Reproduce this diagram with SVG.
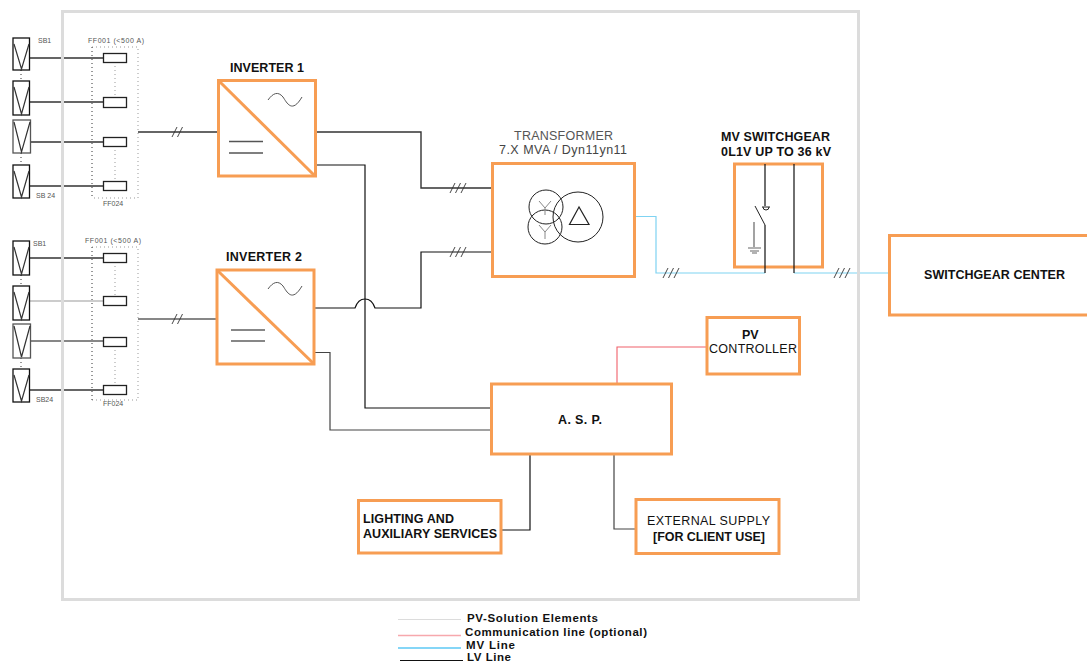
<svg xmlns="http://www.w3.org/2000/svg" width="1087" height="663" viewBox="0 0 1087 663">
<style>
text{font-family:"Liberation Sans",Arial,sans-serif;fill:#111}
.lb{font-size:12.500px;font-weight:bold}
.lg{font-size:11.500px;font-weight:bold}
.sm{font-size:7px;fill:#555}
.box{fill:#fff;stroke:#f79d53;stroke-width:3}
.diag{fill:none;stroke:#f79d53;stroke-width:3}
.lv{fill:none;stroke:#111;stroke-width:1.200}
.grey{fill:none;stroke:#444;stroke-width:1.200}
.thick{fill:none;stroke:#333;stroke-width:1.400}
.mv{fill:none;stroke:#7fd3f2;stroke-width:1.200}
.com{fill:none;stroke:#f0606a;stroke-width:1.100}
.pv{fill:#fff;stroke:#111;stroke-width:1.300}
.vee{fill:none;stroke:#333;stroke-width:1.200}
.fuse{fill:#fff;stroke:#222;stroke-width:1.300}
.dot{fill:none;stroke:#999;stroke-width:1;stroke-dasharray:1 3}
.dotd{fill:none;stroke:#333;stroke-width:1;stroke-dasharray:1 3}
.tick{fill:none;stroke:#333;stroke-width:.9}
.sym{fill:none;stroke:#222;stroke-width:1}
</style>
<defs>
<g id="sine"><path class="sym" d="M0 8C5 1 10 -1 15 5C19 11 24 22 34 5" style="stroke:#555"/></g>
<g id="t2"><path class="tick" d="M0 10L5 0M5.500 10L10.500 0"/></g>
<g id="t3"><path class="tick" d="M0 10L5 0M5.500 10L10.500 0M11 10L16 0"/></g>
</defs>

<g id="connectors">
<path class="thick" d="M30 58H104M30 102H104M30 142H104M30 186H104"/>
<path class="thick" d="M30 258H104"/><path fill="none" stroke="#999" stroke-width="1.200" d="M30 301H104"/><path class="lv" d="M30 341H104"/><path class="thick" d="M30 390H104"/>
<path class="thick" d="M138 132H218"/><path class="lv" d="M138 319H217"/>
<path class="thick" d="M315 132H421V188H492"/>
<path class="lv" d="M315 165H365V408H491"/>
<path class="lv" d="M314 308H355C357 302 360 299 365 299C370 299 373 302 375 308H421V252H492"/>
<path class="grey" d="M314 352.500H330V430H491"/>
<path class="mv" d="M635 216.500H656V273H765"/>
<path class="mv" d="M794 273H889"/>
<path class="com" d="M617 384V347H707"/>
<path class="lv" d="M530 454V530H501"/>
<path class="grey" d="M614 454V529H636"/>
<use href="#t2" x="172" y="127"/><use href="#t2" x="172" y="314"/>
<use href="#t3" x="450" y="183"/><use href="#t3" x="450" y="247"/>
<use href="#t3" x="663" y="268"/><use href="#t3" x="834" y="268"/>
</g>

<g id="frame"><rect x="62.500" y="11.500" width="796" height="588" fill="none" stroke="#dcdcdc" stroke-width="3"/></g>

<g id="pv-string-1">
<path class="dotd" d="M21 70V81M21 153V165"/>
<rect class="pv" x="13" y="38" width="16.500" height="32"/><path class="vee" d="M14 44L21.500 69L29 44"/>
<rect class="pv" x="13" y="81" width="16.500" height="34"/><path class="vee" d="M14 87L21.500 114L29 87"/>
<rect class="pv" x="13" y="120" width="17.500" height="33" style="stroke:#555"/><path class="vee" d="M14 122L21.500 152L30 122"/>
<rect class="pv" x="13" y="165" width="16.500" height="33"/><path class="vee" d="M14 171L21.500 197L29 171"/>
<text class="sm" x="38" y="43">SB1</text>
<text class="sm" x="36" y="198">SB 24</text>
</g>

<g id="fuses-1">
<path class="dot" d="M92 47H138V198H92"/><path class="dotd" d="M92 47V198"/>
<path class="dot" d="M115 62V97M115 146V181"/>
<rect class="fuse" x="103.500" y="53.500" width="23" height="9"/>
<rect class="fuse" x="103.500" y="97.500" width="23" height="10"/>
<rect class="fuse" x="103.500" y="137.500" width="23" height="9"/>
<rect class="fuse" x="103.500" y="181.500" width="23" height="9"/>
<text class="sm" x="88" y="43" textLength="56">FF001 (&lt;500 A)</text>
<text class="sm" x="103" y="206">FF024</text>
</g>

<g id="pv-string-2">
<path class="dotd" d="M21 275V286M21 358V369"/>
<rect class="pv" x="13" y="241" width="16.500" height="34"/><path class="vee" d="M14 247L21.500 274L29 247"/>
<rect class="pv" x="13" y="286" width="16.500" height="34"/><path class="vee" d="M14 292L21.500 319L29 292"/>
<rect class="pv" x="13" y="324" width="17.500" height="34" style="stroke:#555"/><path class="vee" d="M14 326L21.500 357L30 326"/>
<rect class="pv" x="13" y="369" width="16.500" height="33"/><path class="vee" d="M14 375L21.500 401L29 375"/>
<text class="sm" x="33" y="246">SB1</text>
<text class="sm" x="36" y="402">SB24</text>
</g>

<g id="fuses-2">
<path class="dot" d="M92 247H138V400H92"/><path class="dotd" d="M92 247V400"/>
<path class="dot" d="M115 262V296M115 346V385"/>
<rect class="fuse" x="103.500" y="253.500" width="23" height="9"/>
<rect class="fuse" x="103.500" y="296.500" width="23" height="9"/>
<rect class="fuse" x="103.500" y="337.500" width="23" height="9"/>
<rect class="fuse" x="103.500" y="385.500" width="23" height="9"/>
<text class="sm" x="85" y="243" textLength="56">FF001 (&lt;500 A)</text>
<text class="sm" x="103" y="406">FF024</text>
</g>

<g id="inverter-1">
<rect class="box" x="218.500" y="80.500" width="97" height="95.500"/>
<path class="diag" d="M219 81L315 176"/>
<use href="#sine" x="268" y="92"/>
<path class="thick" d="M229 141.500H263M229 153H263" style="stroke:#555"/>
<text class="lb" x="230" y="72" textLength="74">INVERTER 1</text>
</g>

<g id="inverter-2">
<rect class="box" x="217" y="270" width="97" height="94"/>
<path class="diag" d="M218 271L313 363"/>
<use href="#sine" x="268" y="281"/>
<path class="lv" d="M231 330H265M231 341H265"/>
<text class="lb" x="226" y="261" textLength="76">INVERTER 2</text>
</g>

<g id="transformer">
<rect class="box" x="492.500" y="163.500" width="142" height="113"/>
<circle class="sym" cx="546" cy="207" r="17"/>
<circle class="sym" cx="545" cy="227" r="17"/>
<circle class="sym" cx="578" cy="217" r="25"/>
<path d="M579 207L569.500 224.500H589Z" fill="none" stroke="#222" stroke-width="1.200"/>
<path d="M539 201L545 208L551 201M545 208V215M539 225L545 232L551 225M545 232V239" fill="none" stroke="#888" stroke-width="1"/>
<text class="lb" x="514" y="140" textLength="99" style="fill:#555;font-weight:normal">TRANSFORMER</text>
<text class="lb" x="499" y="154" textLength="128" style="fill:#444;font-weight:normal">7.X MVA / Dyn11yn11</text>
</g>

<g id="mv-switchgear">
<rect class="box" x="734.500" y="164" width="88" height="103"/>
<path class="lv" d="M765 164V206M765 225V273M794 164V273"/>
<path class="sym" d="M755 206L765 225M762 207H770M763 207A3 3 0 0 0 769 207"/>
<path d="M754 222V247M748 248H761M750 251H759M752 253H757" fill="none" stroke="#666" stroke-width="1.200"/>
<text class="lb" x="721" y="141" textLength="109">MV SWITCHGEAR</text>
<text class="lb" x="721" y="156" textLength="110">0L1V UP TO 36 kV</text>
</g>

<g id="switchgear-center">
<rect class="box" x="889.500" y="235.500" width="200" height="79.500"/>
<text class="lb" x="924" y="279" textLength="141">SWITCHGEAR CENTER</text>
</g>

<g id="pv-controller">
<rect class="box" x="707" y="317.500" width="92.500" height="56.500"/>
<text class="lb" x="742" y="339">PV</text>
<text class="lb" x="709" y="353" textLength="88" style="font-weight:normal">CONTROLLER</text>
</g>

<g id="asp">
<rect class="box" x="491.500" y="384" width="180" height="70"/>
<text class="lb" x="558" y="424" textLength="44">A. S. P.</text>
</g>

<g id="lighting">
<rect class="box" x="358.500" y="500.500" width="142.500" height="52.500"/>
<text class="lb" x="363" y="523" textLength="91">LIGHTING AND</text>
<text class="lb" x="363" y="538" textLength="134">AUXILIARY SERVICES</text>
</g>

<g id="external-supply">
<rect class="box" x="636" y="499.500" width="143" height="54"/>
<text class="lb" x="647" y="525" textLength="123" style="font-weight:normal">EXTERNAL SUPPLY</text>
<text class="lb" x="653" y="541" textLength="112">[FOR CLIENT USE]</text>
</g>

<g id="legend">
<path d="M398 619.500H461" stroke="#dcdcdc" stroke-width="1"/>
<path d="M398 635.500H461" stroke="#f7a8ad" stroke-width="1.500"/>
<path d="M398 648H461" stroke="#5cc8f5" stroke-width="1.500"/>
<path d="M400 660.500H463" stroke="#111" stroke-width="1.200"/>
<text class="lg" x="467" y="622" textLength="131">PV-Solution Elements</text>
<text class="lg" x="465" y="635.500" textLength="182">Communication line (optional)</text>
<text class="lg" x="466" y="648.500" textLength="49">MV Line</text>
<text class="lg" x="467" y="660.500" textLength="44">LV Line</text>
</g>
</svg>
